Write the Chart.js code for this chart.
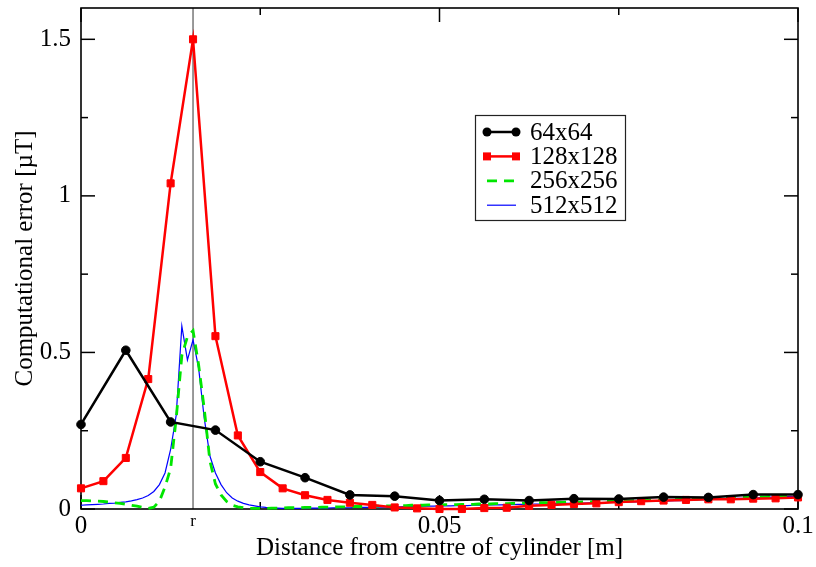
<!DOCTYPE html>
<html>
<head>
<meta charset="utf-8">
<script src="https://cdn.jsdelivr.net/npm/chart.js@4.4.1/dist/chart.umd.min.js"></script>
<style>
  html,body{margin:0;padding:0;background:#fff;}
  canvas{display:block;}
</style>
</head>
<body>
<canvas id="err" width="816" height="567"></canvas>
<script>
// grid spacing of each mesh along the radius [m]
const step64 = 0.00625;
const step128 = 0.003125;
const step256 = 0.00078125;
const step512 = 0.00078125;
const rPos = 0.015625;   // cylinder radius

const err64 = [0.27, 0.507, 0.278, 0.252, 0.151, 0.1, 0.045, 0.041, 0.027, 0.031,
  0.027, 0.033, 0.032, 0.038, 0.037, 0.046, 0.046];

const err128 = [0.066, 0.089, 0.163, 0.415, 1.04, 1.5, 0.552, 0.235, 0.118, 0.066,
  0.044, 0.029, 0.02, 0.013, 0.005, 0.002, 0.0, 0.0, 0.003, 0.004,
  0.01, 0.013, 0.016, 0.018, 0.022, 0.025, 0.027, 0.029, 0.031, 0.031,
  0.033, 0.034, 0.037];

const err256 = [0.027, 0.027, 0.026, 0.025, 0.024, 0.022, 0.02, 0.018, 0.015, 0.012,
  0.009, 0.005, 0.002, 0.006, 0.025, 0.07, 0.13, 0.29, 0.49, 0.55,
  0.57, 0.46, 0.32, 0.155, 0.08, 0.045, 0.024, 0.012, 0.007, 0.004,
  0.002, 0.002, 0.002, 0.002, 0.003, 0.003, 0.003, 0.004, 0.004, 0.004,
  0.005, 0.005, 0.005, 0.006, 0.006, 0.006, 0.007, 0.007, 0.007, 0.008,
  0.008, 0.008, 0.009, 0.009, 0.01, 0.01, 0.01, 0.011, 0.011, 0.012,
  0.012, 0.012, 0.013, 0.013, 0.013, 0.014, 0.014, 0.014, 0.015, 0.015,
  0.015, 0.016, 0.016, 0.016, 0.017, 0.017, 0.017, 0.018, 0.018, 0.019,
  0.019, 0.019, 0.02, 0.02, 0.02, 0.021, 0.021, 0.022, 0.022, 0.022,
  0.023, 0.023, 0.024, 0.024, 0.025, 0.025, 0.025, 0.026, 0.026, 0.027,
  0.027, 0.028, 0.028, 0.029, 0.029, 0.03, 0.03, 0.031, 0.031, 0.032,
  0.032, 0.033, 0.033, 0.034, 0.034, 0.035, 0.035, 0.036, 0.037, 0.037,
  0.038, 0.039, 0.039, 0.04, 0.041, 0.041, 0.042, 0.043, 0.044];

const err512 = [0.012, 0.013, 0.014, 0.015, 0.016, 0.018, 0.019, 0.021, 0.023, 0.026,
  0.03, 0.035, 0.043, 0.056, 0.078, 0.115, 0.19, 0.3, 0.584, 0.476,
  0.54, 0.45, 0.29, 0.17, 0.115, 0.078, 0.052, 0.035, 0.025, 0.018,
  0.013, 0.01, 0.007, 0.005, 0.004, 0.003, 0.002, 0.002, 0.002, 0.002,
  0.002, 0.003, 0.003, 0.003, 0.003, 0.004, 0.004, 0.004, 0.004, 0.005,
  0.005, 0.005, 0.006, 0.006, 0.006, 0.007, 0.007, 0.007, 0.008, 0.008,
  0.008, 0.009, 0.009, 0.009, 0.01, 0.01, 0.01, 0.011, 0.011, 0.011,
  0.012, 0.012, 0.012, 0.013, 0.013, 0.013, 0.014, 0.014, 0.015, 0.015,
  0.015, 0.016, 0.016, 0.016, 0.017, 0.017, 0.018, 0.018, 0.018, 0.019,
  0.019, 0.02, 0.02, 0.02, 0.021, 0.021, 0.022, 0.022, 0.023, 0.023,
  0.024, 0.024, 0.025, 0.025, 0.026, 0.026, 0.027, 0.027, 0.028, 0.028,
  0.029, 0.03, 0.03, 0.031, 0.032, 0.032, 0.033, 0.034, 0.034, 0.035,
  0.036, 0.036, 0.037, 0.038, 0.038, 0.039, 0.04, 0.04, 0.041];

const xMajor = [0, 0.05, 0.1];
const xMinor = [0.025, 0.075];
const yMajor = [0, 0.5, 1, 1.5];
const yMinor = [0.25, 0.75, 1.25];
const xLabels = [[0, '0'], [rPos, 'r'], [0.05, '0.05'], [0.1, '0.1']];

const serif = '"Liberation Serif", "Times New Roman", serif';

const toXY = (arr, step) => arr.map((v, i) => ({x: i * step, y: v}));

const same = (a, b) => Math.abs(a - b) < 1e-9;

// frame, inward ticks and the line at r
const framePlugin = {
  id: 'frame',
  beforeDatasetsDraw(chart) {
    const {ctx, chartArea: a, scales: {x, y}} = chart;
    ctx.save();
    // radius marker
    const rx = x.getPixelForValue(rPos);
    ctx.strokeStyle = '#808080';
    ctx.lineWidth = 1.6;
    ctx.beginPath();
    ctx.moveTo(rx, a.top);
    ctx.lineTo(rx, a.bottom);
    ctx.stroke();

    ctx.strokeStyle = '#000';
    ctx.lineWidth = 1.5;
    const tick = (x0, y0, x1, y1) => { ctx.beginPath(); ctx.moveTo(x0, y0); ctx.lineTo(x1, y1); ctx.stroke(); };
    xMajor.forEach(v => { const px = x.getPixelForValue(v); tick(px, a.bottom, px, a.bottom - 14); tick(px, a.top, px, a.top + 14); });
    xMinor.forEach(v => { const px = x.getPixelForValue(v); tick(px, a.bottom, px, a.bottom - 7); tick(px, a.top, px, a.top + 7); });
    yMajor.forEach(v => { const py = y.getPixelForValue(v); tick(a.left, py, a.left + 14, py); tick(a.right, py, a.right - 14, py); });
    yMinor.forEach(v => { const py = y.getPixelForValue(v); tick(a.left, py, a.left + 7, py); tick(a.right, py, a.right - 7, py); });

    ctx.lineWidth = 1.6;
    ctx.strokeRect(a.left, a.top, a.right - a.left, a.bottom - a.top);
    ctx.restore();
  }
};

// legend box with line samples
const legendPlugin = {
  id: 'boxLegend',
  afterDraw(chart) {
    const {ctx} = chart;
    const bx = 475.5, by = 115.5, bw = 150, bh = 105;
    ctx.save();
    ctx.fillStyle = '#fff';
    ctx.fillRect(bx, by, bw, bh);
    ctx.strokeStyle = '#222';
    ctx.lineWidth = 1.2;
    ctx.strokeRect(bx, by, bw, bh);
    ctx.font = '25px ' + serif;
    ctx.textBaseline = 'middle';
    ctx.textAlign = 'left';
    chart.data.datasets.forEach((ds, i) => {
      const yy = 132 + i * 24.4;
      const x0 = 487, x1 = 516;
      ctx.strokeStyle = ds.borderColor;
      ctx.lineWidth = ds.borderWidth;
      ctx.setLineDash(ds.borderDash || []);
      ctx.beginPath();
      ctx.moveTo(x0, yy);
      ctx.lineTo(x1, yy);
      ctx.stroke();
      ctx.setLineDash([]);
      if (ds.pointRadius > 0) {
        ctx.fillStyle = ds.borderColor;
        [x0, x1].forEach(px => {
          ctx.beginPath();
          if (ds.pointStyle === 'rect') ctx.rect(px - 4, yy - 4, 8, 8);
          else ctx.arc(px, yy, 4.5, 0, Math.PI * 2);
          ctx.fill();
        });
      }
      ctx.fillStyle = '#000';
      ctx.fillText(ds.label, 530, yy + 1);
    });
    ctx.restore();
  }
};

new Chart(document.getElementById('err'), {
  type: 'line',
  data: {
    datasets: [
      {label: '64x64', data: toXY(err64, step64), borderColor: '#000', backgroundColor: '#000',
        borderWidth: 2.5, pointRadius: 4.3, pointStyle: 'circle', pointBorderWidth: 1, clip: false},
      {label: '128x128', data: toXY(err128, step128), borderColor: '#ff0000', backgroundColor: '#ff0000',
        borderWidth: 2.5, pointRadius: 5, pointStyle: 'rect', pointBorderWidth: 1, clip: false},
      {label: '256x256', data: toXY(err256, step256), borderColor: '#00e600', borderWidth: 2.8,
        borderDash: [10, 7], pointRadius: 0, clip: false},
      {label: '512x512', data: toXY(err512, step512), borderColor: '#0000ff', borderWidth: 1.2,
        pointRadius: 0, clip: false}
    ]
  },
  options: {
    responsive: false,
    animation: false,
    layout: {padding: {top: 8, right: 18, left: 0, bottom: 0}},
    elements: {line: {tension: 0}},
    plugins: {legend: {display: false}, tooltip: {enabled: false}},
    scales: {
      x: {
        type: 'linear', min: 0, max: 0.1,
        afterBuildTicks: s => { s.ticks = xLabels.map(l => ({value: l[0]})); },
        afterFit: s => { s.height = 58; s.paddingLeft = 0; s.paddingRight = 0; },
        grid: {display: false, drawTicks: false},
        border: {display: false},
        ticks: {
          autoSkip: false, maxRotation: 0, padding: 2, color: '#000',
          font: c => ({family: serif, size: (c.tick && same(c.tick.value, rPos)) ? 17 : 25}),
          callback: v => { const l = xLabels.find(p => same(p[0], v)); return l ? l[1] : ''; }
        },
        title: {display: true, text: 'Distance from centre of cylinder [m]', color: '#000',
          font: {family: serif, size: 25}, padding: {top: 0, bottom: 4}}
      },
      y: {
        type: 'linear', min: 0, max: 1.6,
        afterBuildTicks: s => { s.ticks = yMajor.map(v => ({value: v})); },
        afterFit: s => { s.width = 81; s.paddingTop = 0; s.paddingBottom = 0; },
        grid: {display: false, drawTicks: false},
        border: {display: false},
        ticks: {padding: 10, color: '#000', font: {family: serif, size: 25},
          callback: v => String(v)},
        title: {display: true, text: 'Computational error [µT]', color: '#000',
          font: {family: serif, size: 25}, padding: {top: 10, bottom: 0}}
      }
    }
  },
  plugins: [framePlugin, legendPlugin]
});
</script>
</body>
</html>
